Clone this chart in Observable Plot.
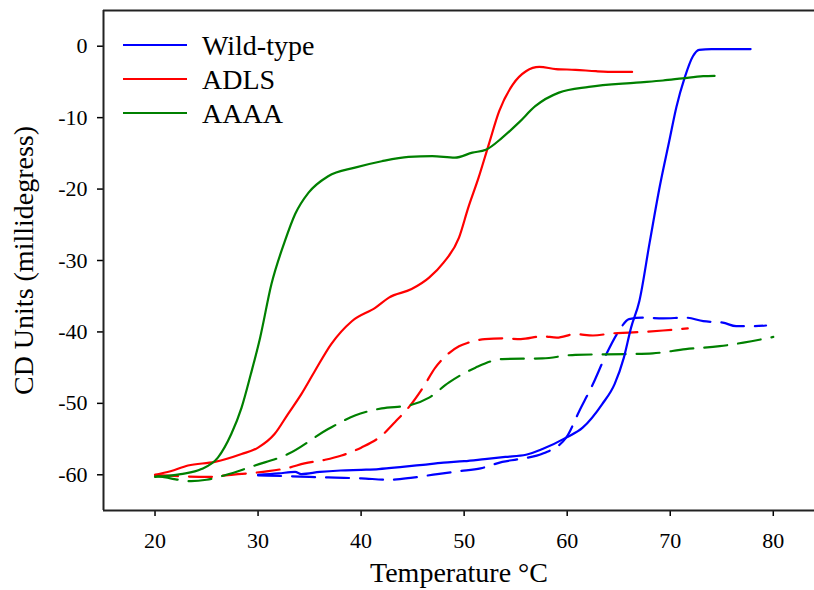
<!DOCTYPE html>
<html><head><meta charset="utf-8">
<script src="https://cdn.jsdelivr.net/npm/d3@7"></script>
<script src="https://cdn.jsdelivr.net/npm/@observablehq/plot@0.6"></script>
<style>body{margin:0;background:#fff;} svg{display:block}</style>
</head><body><div id="chart"></div>
<script>
const seriesNames = ["Wild-type", "ADLS", "AAAA"];
const seriesColors = ["#0000ff", "#ff0000", "#008000"];
const xTicks = [20, 30, 40, 50, 60, 70, 80];
const yTicks = [-60, -50, -40, -30, -20, -10, 0];
const xTitle = "Temperature °C";
const yTitle = "CD Units (millidegress)";

// Wild-type, solid (heating)
const wtSolidT = [30, 32, 33.6, 34.2, 36, 38, 40, 41.7, 44, 46, 48, 50, 52, 54, 56, 57.6, 59.9, 61.5, 63.4, 64.6, 65.5, 66.2, 67, 68, 69, 69.9, 70.6, 71.4, 72.2, 72.8, 74, 76, 77.8];
const wtSolidV = [-60, -59.8, -59.6, -59.9, -59.6, -59.4, -59.3, -59.2, -58.9, -58.6, -58.3, -58.1, -57.8, -57.5, -57.2, -56.4, -54.8, -53.4, -50.1, -47.3, -43.6, -39.4, -35.7, -27.5, -19.5, -13.3, -8.5, -4.4, -1.4, -0.5, -0.4, -0.4, -0.4];
// Wild-type, dashed (cooling)
const wtDashT = [30, 33, 35, 37.5, 40, 42.7, 45, 47.4, 49.5, 51.6, 53.7, 55.3, 57.7, 59.9, 61.2, 62.5, 63.8, 65, 66, 67.3, 69.3, 71.5, 73.2, 75.1, 76.4, 78, 79.3];
const wtDashV = [-60.1, -60.2, -60.3, -60.4, -60.5, -60.7, -60.4, -59.9, -59.5, -59.1, -58.2, -57.8, -57, -54.8, -51, -47.3, -43.1, -39.9, -38.2, -38, -38.1, -38, -38.5, -38.7, -39.2, -39.2, -39.1];
// ADLS, solid
const adlsSolidT = [20, 21.5, 23.2, 25.8, 28.4, 30, 31.6, 32.9, 34.2, 35.5, 37.1, 39.1, 41.4, 42.7, 44.9, 46.6, 48, 49.5, 50.4, 51.4, 52.4, 53.4, 54.7, 56, 57.3, 58.9, 60.8, 62.8, 64.7, 66.3];
const adlsSolidV = [-60, -59.5, -58.7, -58.2, -57.1, -56.2, -54.3, -51.5, -48.7, -45.5, -41.7, -38.5, -36.6, -35.2, -34, -32.4, -30.3, -26.8, -22.6, -18.4, -13.7, -9.1, -5.4, -3.5, -2.9, -3.2, -3.3, -3.5, -3.6, -3.6];
// ADLS, dashed
const adlsDashT = [20, 22.5, 25.1, 27.4, 29, 31, 33, 34.5, 36.5, 38.1, 40, 42, 43.3, 44.6, 46, 47.2, 48.5, 49.5, 50.4, 52, 53.7, 55.5, 57.6, 59, 60.8, 62.5, 64.4, 66, 67.3, 69.3, 71.7];
const adlsDashV = [-60, -60.2, -60.3, -60, -59.8, -59.5, -59, -58.4, -57.9, -57.3, -56.2, -54.5, -52.6, -50.6, -47.8, -45, -43, -42, -41.5, -41, -40.9, -41, -40.6, -40.8, -40.3, -40.5, -40.2, -40.1, -40, -39.8, -39.5];
// AAAA, solid
const aaaaSolidT = [20, 22.5, 24.5, 26.1, 27.4, 28.4, 29.3, 30.2, 31.3, 32.6, 33.6, 34.9, 36.8, 39.4, 42, 44.6, 46.9, 49.1, 50.8, 52.1, 53.7, 55.3, 56.9, 59.2, 62.1, 66.7, 69.3, 71.2, 73.2, 74.3];
const aaaaSolidV = [-60.3, -59.9, -59.2, -57.6, -54.3, -50.6, -45.9, -40.8, -33.3, -27.3, -23.5, -20.5, -18.2, -17, -16.1, -15.5, -15.4, -15.6, -14.9, -14.5, -12.8, -10.7, -8.4, -6.5, -5.7, -5.1, -4.8, -4.5, -4.2, -4.15];
// AAAA, dashed
const aaaaDashT = [20, 21.5, 23.5, 25, 26.7, 29.7, 32.9, 36.8, 39.4, 42, 44.6, 46.6, 48.5, 51.1, 53.7, 57.6, 60.8, 65.7, 68.3, 71.5, 74.8, 77.1, 80];
const aaaaDashV = [-60.1, -60.5, -60.9, -60.7, -60.1, -58.7, -57.1, -53.6, -51.7, -50.7, -50.3, -49.2, -47.1, -45, -43.8, -43.7, -43.2, -43.1, -43, -42.4, -42, -41.5, -40.7];

function toRows(name, T, V) { return T.map((t, i) => ({name, T: t, V: V[i]})); }
const solidRows = [
  ...toRows("Wild-type", wtSolidT, wtSolidV),
  ...toRows("ADLS", adlsSolidT, adlsSolidV),
  ...toRows("AAAA", aaaaSolidT, aaaaSolidV)
];
const dashRows = [
  ...toRows("Wild-type", wtDashT, wtDashV),
  ...toRows("ADLS", adlsDashT, adlsDashV),
  ...toRows("AAAA", aaaaDashT, aaaaDashV)
];

const chart = Plot.plot({
  width: 814,
  height: 590,
  marginLeft: 103,
  marginRight: 0,
  marginTop: 10,
  marginBottom: 80,
  style: {fontFamily: "'Liberation Serif', 'Times New Roman', serif", background: "#fff", color: "#000"},
  x: {domain: [15, 84]},
  y: {domain: [-65, 5]},
  color: {domain: seriesNames, range: seriesColors},
  marks: [
    Plot.axisX({ticks: xTicks, tickSize: 6, tickPadding: 16, fontSize: 22, strokeWidth: 1.5, label: null, tickFormat: d => String(d)}),
    Plot.axisY({ticks: yTicks, tickSize: 6, tickPadding: 10, fontSize: 22, strokeWidth: 1.5, label: null, tickFormat: d => String(d)}),
    Plot.line(dashRows, {x: "T", y: "V", z: "name", stroke: "name", strokeWidth: 2.2, strokeDasharray: "23,11", curve: "monotone-x"}),
    Plot.line(solidRows, {x: "T", y: "V", z: "name", stroke: "name", strokeWidth: 2.2, curve: "monotone-x"}),
    Plot.ruleX([15], {stroke: "#222", strokeWidth: 2}),
    Plot.ruleY([-65], {stroke: "#222", strokeWidth: 2}),
    Plot.ruleY([5], {stroke: "#222", strokeWidth: 2}),
    Plot.text([xTitle], {frameAnchor: "bottom", dy: 71, fontSize: 28, fill: "#000", textAnchor: "middle"}),
    Plot.text([yTitle], {frameAnchor: "left", dx: -79, rotate: -90, fontSize: 28, fill: "#000", textAnchor: "middle", lineAnchor: "middle"})
  ]
});

const svg = d3.select(chart);
const lg = svg.append("g")
  .attr("font-family", "'Liberation Serif', 'Times New Roman', serif")
  .attr("font-size", 28)
  .attr("text-anchor", "start");
seriesNames.forEach((name, i) => {
  const y = 45 + i * 34;
  lg.append("line").attr("x1", 123).attr("x2", 187).attr("y1", y).attr("y2", y)
    .attr("stroke", seriesColors[i]).attr("stroke-width", 2.2);
  lg.append("text").attr("x", 202).attr("y", y + 10).attr("fill", "#000").attr("text-anchor", "start").text(name);
});

document.getElementById("chart").appendChild(chart);
</script>
</body></html>
